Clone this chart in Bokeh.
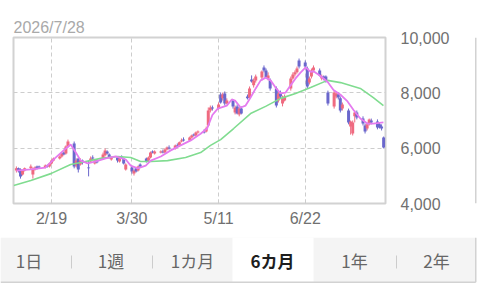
import pandas as pd
from bokeh.plotting import figure
from bokeh.layouts import column, row
from bokeh.models import ColumnDataSource, FixedTicker, NumeralTickFormatter, Range1d
from bokeh.core.properties import value
from bokeh.embed import file_html
from bokeh.resources import INLINE

# ---------------- data ----------------
title_text = "2026/7/28"
first_day = "2026-02-02"
last_day = "2026-07-30"

opens = [5190, 5270, 5230, 5050, 5190, 5270, 5050, 5230, 5340, 5340,
         5300, 5370, 5340, 5450, 5550, 5630, 5700, 5840, 5810, 6060,
         6170, 5370, 5630, 5410, 5550, 5300, 5520, 5660, 5450, 5550,
         5630, 5740, 5880, 5770, 5590, 5660, 5520, 5700, 5630, 5230,
         5300, 5080, 5270, 5190, 5410, 5630, 5550, 5660, 5880, 5810,
         5840, 5880, 5840, 5950, 6020, 5990, 6100, 6100, 6240, 6310,
         6280, 6390, 6490, 6460, 6570, 6600, 6600, 6820, 7360, 7470,
         7430, 7940, 7800, 7980, 7610, 7720, 7290, 7510, 7220, 7430,
         7870, 7830, 8480, 8270, 8450, 8550, 8920, 8810, 8520, 8450,
         8160, 7720, 7980, 7610, 7720, 8160, 8520, 8660, 8740, 9170,
         9100, 8880, 8370, 8590, 8810, 8810, 8520, 8590, 8590, 8010,
         7510, 7870, 7940, 7800, 7430, 7360, 6780, 6530, 7150, 7290,
         7070, 6820, 6710, 6860, 7000, 6960, 6860, 6780, 6390]
closes = [5270, 5190, 4980, 5190, 5270, 5340, 5230, 5300, 5270, 5300,
          5370, 5340, 5450, 5550, 5630, 5700, 5810, 5770, 6060, 6240,
          5340, 5550, 5230, 5550, 5480, 5270, 5630, 5630, 5550, 5480,
          5770, 5920, 5810, 5660, 5660, 5550, 5630, 5660, 5450, 5410,
          5160, 5190, 5160, 5340, 5340, 5520, 5660, 5840, 5840, 5880,
          5880, 5840, 5950, 6020, 5990, 6100, 6060, 6210, 6280, 6280,
          6390, 6460, 6460, 6570, 6600, 6570, 6710, 7360, 7470, 7430,
          7580, 7650, 7940, 7610, 7720, 7510, 7470, 7250, 7430, 7250,
          7800, 8160, 8410, 8450, 8590, 8770, 8810, 8550, 8630, 8160,
          7540, 7980, 7870, 7800, 7870, 8520, 8660, 8740, 8880, 8950,
          8950, 8230, 8520, 8810, 8920, 8630, 8590, 8520, 8450, 7610,
          8010, 7980, 7830, 7360, 7580, 6930, 6960, 6930, 7290, 7110,
          6890, 6600, 6860, 7040, 6930, 6750, 6750, 6710, 6020]
highs = [5340, 5300, 5270, 5230, 5300, 5410, 5300, 5340, 5370, 5370,
         5410, 5410, 5480, 5590, 5660, 5740, 5840, 5880, 6100, 6310,
         6240, 5630, 5660, 5630, 5590, 5550, 5700, 5740, 5590, 5590,
         5840, 5990, 5920, 5810, 5700, 5700, 5660, 5740, 5660, 5450,
         5340, 5230, 5300, 5370, 5450, 5660, 5700, 5880, 5920, 5920,
         5920, 5950, 5990, 6060, 6100, 6130, 6170, 6240, 6350, 6390,
         6420, 6490, 6530, 6600, 6640, 6680, 6780, 7470, 7540, 7540,
         7650, 8010, 8010, 8050, 7800, 7760, 7540, 7580, 7510, 7510,
         7940, 8230, 8630, 8520, 8660, 8810, 8990, 8880, 8740, 8520,
         8230, 8050, 8080, 7900, 7940, 8590, 8740, 8810, 8950, 9240,
         9170, 8950, 8590, 8880, 8990, 8880, 8660, 8630, 8630, 8080,
         8080, 8050, 8010, 7870, 7650, 7430, 7000, 7000, 7360, 7360,
         7150, 6890, 6930, 7070, 7070, 7040, 6930, 6860, 6420]
lows = [5120, 5120, 4900, 5010, 5160, 5230, 4900, 5190, 5230, 5270,
        5270, 5300, 5300, 5410, 5520, 5590, 5660, 5740, 5770, 6020,
        5270, 5300, 5120, 5370, 5410, 4980, 5480, 5550, 5410, 5450,
        5590, 5700, 5770, 5630, 5550, 5480, 5480, 5630, 5410, 5190,
        5080, 5010, 5120, 5160, 5300, 5480, 5520, 5630, 5810, 5770,
        5810, 5810, 5810, 5920, 5950, 5950, 6020, 6060, 6210, 6240,
        6240, 6350, 6420, 6420, 6530, 6530, 6570, 6780, 7290, 7360,
        7400, 7610, 7720, 7540, 7580, 7430, 7220, 7220, 7150, 7220,
        7760, 7760, 8370, 8190, 8370, 8450, 8740, 8520, 8450, 8080,
        7470, 7650, 7800, 7510, 7690, 8080, 8480, 8590, 8700, 8880,
        8880, 8160, 8300, 8520, 8740, 8590, 8450, 8450, 8370, 7540,
        7430, 7800, 7760, 7290, 7360, 6860, 6490, 6460, 6930, 7040,
        6820, 6530, 6640, 6820, 6860, 6680, 6710, 6640, 5990]

# short moving average (pink): day-of-year index, value
pink_days = [32, 39, 46, 51, 56, 58.3, 60.8, 63.2, 66.6, 70.5, 75.3, 80.1, 85,
             87.4, 90.8, 94.7, 97.1, 102, 106.8, 111.6, 116.5, 121.3, 124.5,
             127, 129.6, 134, 136.4, 138, 140.7, 143.1, 145.5, 148, 150.4,
             152.8, 155.2, 157.6, 160.1, 162.5, 164.9, 167.3, 169.7, 172.2,
             174.6, 176, 179.4, 182.8, 185.7, 189.1, 192.5, 195.4, 198.7,
             202.1, 205, 209.9]
pink_vals = [5190, 5230, 5300, 5660, 5990, 6130, 5840, 5550, 5450, 5520, 5630,
             5700, 5590, 5370, 5270, 5370, 5550, 5700, 5920, 6100, 6280, 6520,
             6720, 7200, 7430, 7540, 7760, 7720, 7470, 7540, 7830, 8160, 8450,
             8550, 8450, 8190, 7980, 8010, 8270, 8520, 8730, 8920, 8760, 8780,
             8610, 8400, 8100, 7930, 7690, 7380, 7070, 6890, 6890, 6930]

# long moving average (green)
green_days = [30.7, 39, 48.7, 58.3, 63.2, 72.9, 81.1, 87.4, 92.2, 97.1, 105.3,
              114, 121.3, 126.1, 131, 137.3, 145.5, 152.8, 160.1, 167.3, 174.6,
              182.8, 189.1, 198.7, 205, 209.9]
green_vals = [4650, 4830, 5080, 5410, 5480, 5630, 5700, 5660, 5520, 5520, 5550,
              5660, 5840, 6100, 6310, 6710, 7250, 7510, 7800, 7980, 8190, 8450,
              8370, 8160, 7830, 7540]

x_ticks = [49, 88, 130, 172]
x_tick_labels = ["2/19", "3/30", "5/11", "6/22"]
y_ticks = [4000, 6000, 8000, 10000]

tab_labels = ["1日", "1週", "1カ月", "6カ月", "1年", "2年"]
selected_tab = "6カ月"

# ---------------- styles ----------------
RED = "#ef6a80"
BLUE = "#6a67cc"
PINK = "#e57bef"
GREEN = "#80dc90"
BORDER = "#d2d2d2"
GRID = "#cdcdcd"
LATIN = "Liberation Sans"
CJK = "Noto Sans CJK JP"

days = list(pd.bdate_range(first_day, last_day).dayofyear - 1)
src = ColumnDataSource(dict(
    x=days,
    top=[max(o, c) for o, c in zip(opens, closes)],
    bottom=[min(o, c) for o, c in zip(opens, closes)],
    high=highs, low=lows,
    color=[RED if c >= o else BLUE for o, c in zip(opens, closes)],
))


def bare(fig):
    fig.grid.visible = False
    fig.outline_line_color = None
    fig.background_fill_color = "white"
    fig.border_fill_color = "white"
    return fig


# ---- thin top strip carrying the outer border ----
top = bare(figure(width=480, height=2, x_range=Range1d(0, 480), y_range=Range1d(2, 0),
                  x_axis_location=None, y_axis_location=None, toolbar_location=None,
                  output_backend="svg", min_border=0))
top.line([0, 476], [1, 1], line_color=BORDER, line_width=2)

# ---- main chart (with the date as its title) ----
p = figure(width=474, height=235, x_range=Range1d(30.6, 210.9), y_range=Range1d(4000, 10000),
           y_axis_location="right", toolbar_location=None, output_backend="svg",
           min_border_left=13, min_border_right=89, min_border_top=35, min_border_bottom=34)
p.title.text = title_text
p.title.align = "left"
p.title.text_font = LATIN
p.title.text_font_size = "16px"
p.title.text_font_style = "normal"
p.title.text_color = "#a9a9a9"
p.title.standoff = 4
p.background_fill_color = "white"
p.border_fill_color = "white"
p.outline_line_color = BORDER
p.outline_line_width = 2

p.xaxis.ticker = FixedTicker(ticks=x_ticks)
p.xaxis.major_label_overrides = dict(zip(x_ticks, x_tick_labels))
p.yaxis.ticker = FixedTicker(ticks=y_ticks)
p.yaxis.formatter = NumeralTickFormatter(format="0,0")
for ax in (p.xaxis[0], p.yaxis[0]):
    ax.axis_line_color = None
    ax.major_tick_out = 0
    ax.minor_tick_line_color = None
    ax.major_label_text_font = LATIN
    ax.major_label_text_font_size = "16px"
    ax.major_label_text_color = "#707070"
p.xaxis.major_tick_in = 4
p.xaxis.major_tick_line_color = GRID
p.xaxis.major_label_standoff = 6
p.yaxis.major_tick_line_color = None
p.yaxis.major_label_standoff = 15

for g in (p.xgrid[0], p.ygrid[0]):
    g.grid_line_color = GRID
    g.grid_line_dash = "4 3"
    g.grid_line_width = 1

p.segment(x0="x", y0="high", x1="x", y1="low", color="color", line_width=1, source=src)
p.vbar(x="x", width=1.45, top="top", bottom="bottom", fill_color="color", line_color=None, source=src)
p.line(green_days, green_vals, line_color=GREEN, line_width=1.6)
p.line(pink_days, pink_vals, line_color=PINK, line_width=1.8)

# thin strip on the right carrying the outer border
strip = bare(figure(width=6, height=235, x_range=Range1d(474, 480), y_range=Range1d(0, 1),
                    x_axis_location=None, y_axis_location=None, toolbar_location=None,
                    output_backend="svg", min_border=0))
strip.line([475.25, 475.25], [0, 1], line_color=BORDER, line_width=1.5)

# ---- tab bar ----
bot = bare(figure(width=480, height=53, x_range=Range1d(0, 480), y_range=Range1d(53, 0),
                  x_axis_location=None, y_axis_location=None, toolbar_location=None,
                  output_backend="svg", min_border=0))
bot.quad(left=[0], right=[475], top=[0], bottom=[44.5], fill_color="#f4f4f4", line_color=None)
bot.quad(left=[232], right=[313], top=[0], bottom=[44.5], fill_color="white", line_color=None)
bot.line([0, 475.25], [44.75, 44.75], line_color=BORDER, line_width=1.5)
bot.line([475.25, 475.25], [0, 44.75], line_color=BORDER, line_width=1.5)
sep_x = [71, 152, 396]
bot.segment(x0=sep_x, y0=[18] * 3, x1=sep_x, y1=[31] * 3, line_color="#cccccc", line_width=1)
tab_x = [28.5, 110.5, 192, 272, 354, 436]
for lbl, tx in zip(tab_labels, tab_x):
    sel = lbl == selected_tab
    bot.text(x=[tx], y=[23], text=[lbl], text_align="center", text_baseline="middle",
             text_font=value(CJK), text_font_size="17px",
             text_font_style="bold" if sel else "normal",
             text_color="#1e1e1e" if sel else "#666666")

layout = column(top, row(p, strip), bot)
open("out.html", "w").write(file_html(layout, INLINE))
